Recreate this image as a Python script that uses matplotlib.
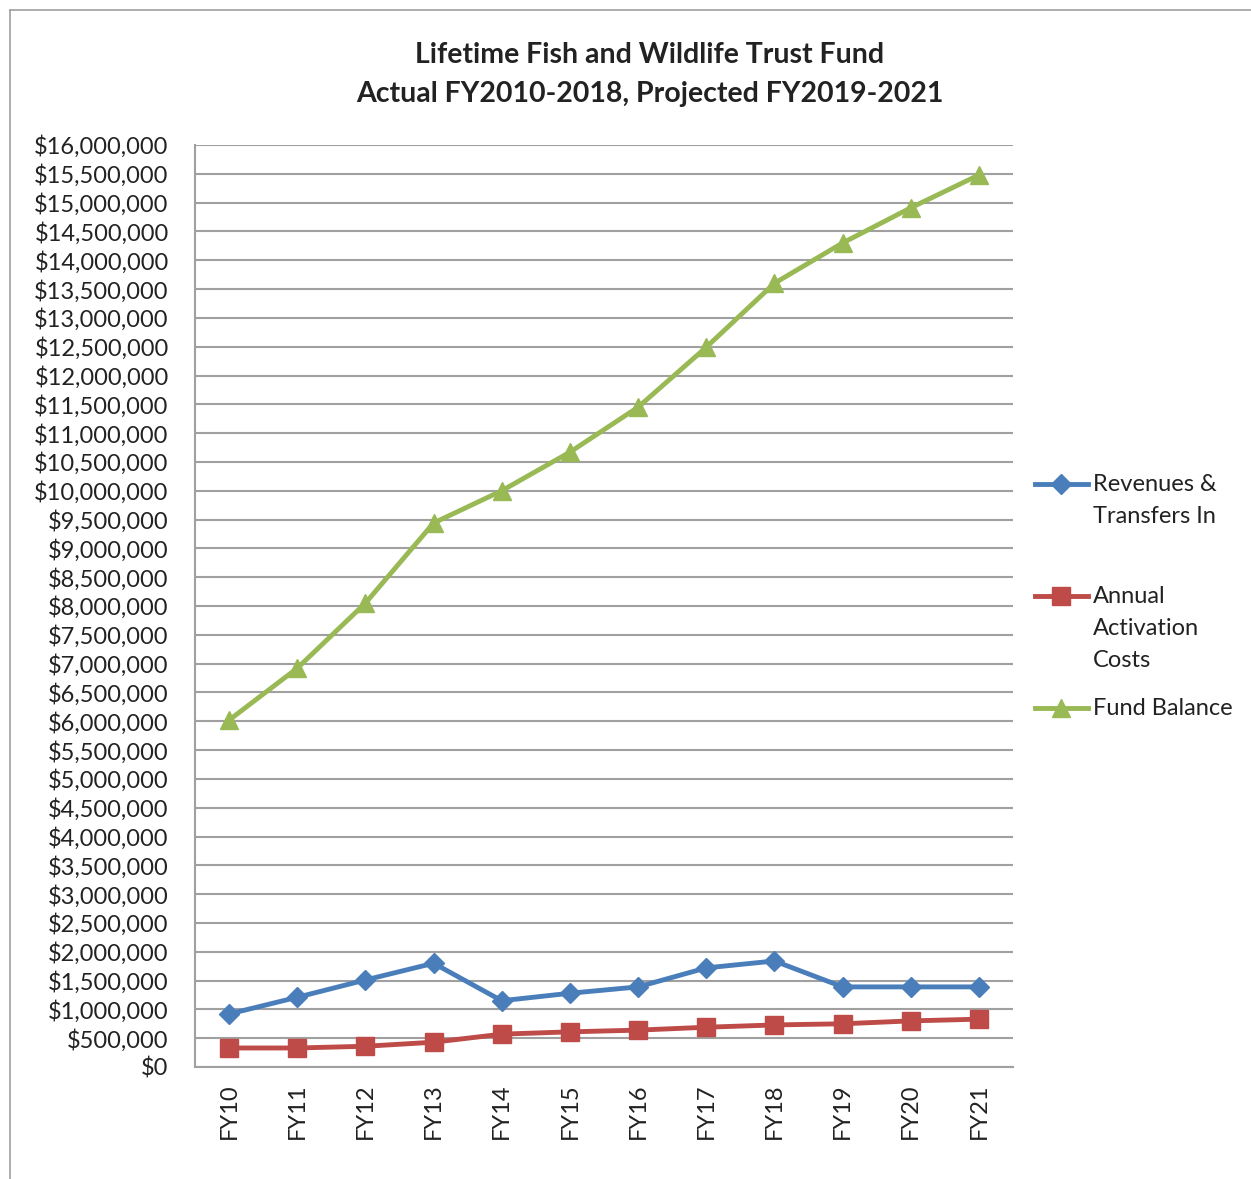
import matplotlib
matplotlib.use("Agg")
import matplotlib.pyplot as plt
from matplotlib.ticker import FuncFormatter, MultipleLocator
import numpy as np

years = ["FY10", "FY11", "FY12", "FY13", "FY14", "FY15",
         "FY16", "FY17", "FY18", "FY19", "FY20", "FY21"]
revenues = [920000, 1210000, 1510000, 1800000, 1150000, 1280000,
            1390000, 1720000, 1840000, 1390000, 1390000, 1390000]
costs = [330000, 330000, 360000, 430000, 570000, 610000,
         640000, 690000, 730000, 750000, 800000, 830000]
balance = [6020000, 6920000, 8050000, 9440000, 10000000, 10670000,
           11450000, 12490000, 13600000, 14300000, 14910000, 15480000]
labels = ["Revenues &\nTransfers In", "Annual\nActivation\nCosts", "Fund Balance"]

plt.rcParams['font.family'] = ['Lato', 'DejaVu Sans']
labelsize = 17
titlesize = 20.5
W, H = 1251, 1179

fig = plt.figure(figsize=(W/100, H/100), dpi=100)
ax = fig.add_axes([195/W, 1 - 1067/H, (1013-195)/W, (1067-145)/H])

# outer frame like the exported chart area
fig.add_artist(plt.Line2D([10/W, 10/W], [0, 1 - 10/H], color="#a0a0a0", lw=1.2))
fig.add_artist(plt.Line2D([10/W, 1], [1 - 10/H, 1 - 10/H], color="#a0a0a0", lw=1.2))

xpos = np.arange(len(years))
styles = [(revenues, 'D', "#4a7ebb", 10), (costs, 's', "#be4b48", 13), (balance, '^', "#98b954", 13)]
for y, m, c, ms in styles:
    ax.plot(xpos, y, '-' + m, color=c, lw=3.5, ms=ms, clip_on=False, zorder=3)

ax.set_xlim(-0.5, len(years) - 0.5)
ax.set_ylim(0, 16000000)
ax.yaxis.set_major_locator(MultipleLocator(500000))
ax.yaxis.set_major_formatter(FuncFormatter(lambda v, p: "$0" if v == 0 else f"${v:,.0f}"))
ax.set_xticks(xpos)
ax.set_xticklabels(years, rotation=90)
ax.tick_params(axis='y', labelsize=labelsize, length=0, pad=19, colors="#222222")
ax.tick_params(axis='x', labelsize=labelsize, length=0, pad=12, colors="#222222")

ax.grid(True, axis='y', color="#a0a0a0", lw=1.5)
ax.set_axisbelow(True)
for s in ["top", "right"]:
    ax.spines[s].set_visible(False)
for s in ["left", "bottom"]:
    ax.spines[s].set_color("#a0a0a0")
    ax.spines[s].set_linewidth(1.5)

fig.text(650/W, 1 - 55/H, "Lifetime Fish and Wildlife Trust Fund", ha="center", va="center",
         fontsize=titlesize, fontweight="bold", color="#222222")
fig.text(650/W, 1 - 94/H, "Actual FY2010-2018, Projected FY2019-2021", ha="center", va="center",
         fontsize=titlesize, fontweight="bold", color="#222222")

# legend drawn by hand so the key sits beside the first text line
leg_y = [484, 596, 708]
for (y, m, c, ms), lab, ly in zip(styles, labels, leg_y):
    fy = 1 - ly/H
    fig.add_artist(plt.Line2D([1035/W, 1088/W], [fy, fy], color=c, lw=3.5))
    fig.add_artist(plt.Line2D([1061/W], [fy], marker=m, color=c, ms=ms))
    fig.text(1093/W, fy + 10/H, lab, ha="left", va="top", fontsize=labelsize, color="#222222",
             linespacing=1.65)

plt.savefig("out.png", dpi=100)
